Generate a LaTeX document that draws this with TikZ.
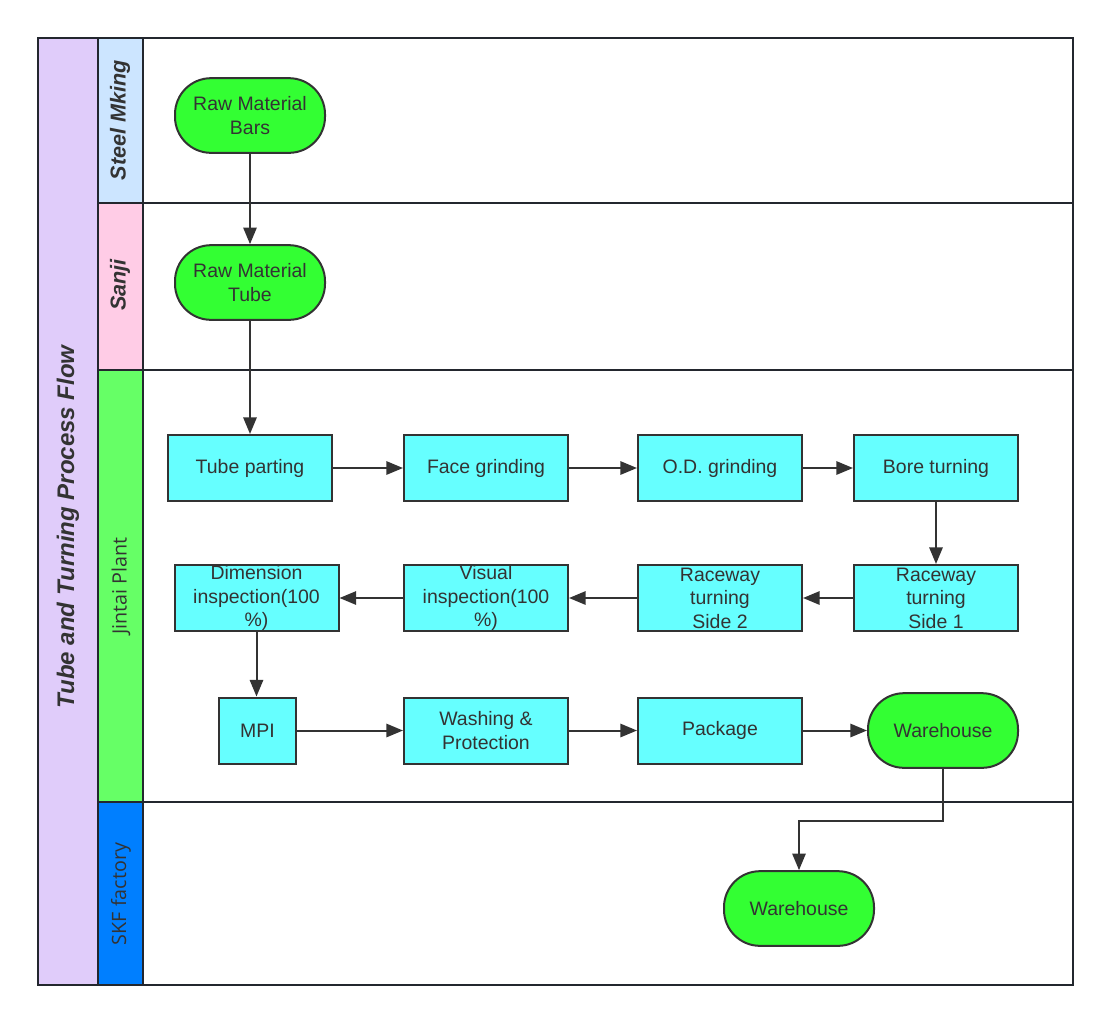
\documentclass[tikz,border=0pt]{standalone}
\usepackage{fontspec}
\setmainfont{Liberation Sans}
\newfontfamily\lanefont{Open Sans}
\definecolor{ink}{HTML}{333333}
\definecolor{rule}{HTML}{23272E}
\definecolor{titlebg}{HTML}{E0CCFA}
\definecolor{steelbg}{HTML}{CCE5FF}
\definecolor{sanjibg}{HTML}{FFCCE6}
\definecolor{jintaibg}{HTML}{66FF66}
\definecolor{skfbg}{HTML}{007FFF}
\definecolor{termfill}{HTML}{33FF33}
\definecolor{stepfill}{HTML}{66FFFF}
\usetikzlibrary{arrows.meta,positioning}

\begin{document}
\begin{tikzpicture}[
    x=0.75pt, y=-0.75pt,
    every node/.style={font=\fontsize{14.6}{17.6}\selectfont, text=ink},
    lane/.style={draw=rule, line width=1.8pt},
    lanetitle/.style={rotate=90, font=\fontsize{16.2}{18}\selectfont\bfseries\itshape},
    laneplain/.style={rotate=90, font=\fontsize{14.8}{17}\selectfont\lanefont},
    stepbox/.style={rectangle, draw=ink, fill=stepfill, line width=1.5pt, minimum height=49.5pt, minimum width=123pt, inner ysep=0pt, align=center},
    terminal/.style={rectangle, draw=ink, fill=termfill, line width=1.5pt, rounded corners=27pt, minimum height=56pt, minimum width=112.5pt, align=center},
    arrow/.style={-{Triangle[length=12.5pt, width=10pt]}, draw=ink, line width=1.5pt}
    ]
    \useasboundingbox (0,0) rectangle (1110,1022);
    % pool and lanes
    \filldraw[lane, fill=titlebg] (38,38) rectangle (98,985);
    \filldraw[lane, fill=steelbg] (98,38) rectangle (143,203);
    \filldraw[lane, fill=sanjibg] (98,203) rectangle (143,370);
    \filldraw[lane, fill=jintaibg] (98,370) rectangle (143,802);
    \filldraw[lane, fill=skfbg] (98,802) rectangle (143,985);
    \draw[lane] (143,38) rectangle (1073,985);
    \draw[lane] (143,203) -- (1073,203);
    \draw[lane] (143,370) -- (1073,370);
    \draw[lane] (143,802) -- (1073,802);
    \node[rotate=90, font=\fontsize{18}{21}\selectfont\bfseries\itshape] (pool) at (68,527) {Tube and Turning Process Flow};
    \node[lanetitle] (steel) at (120,120) {Steel Mking};
    \node[lanetitle] (sanji) at (120,285) {Sanji};
    \node[laneplain] (jintai) at (121,586) {Jintai Plant};
    \node[laneplain] (skf) at (121,894) {SKF factory};
    % steps
    \node[terminal] (bars) at (250,115.5) {Raw Material\\Bars};
    \node[terminal] (tube) at (250,282.5) {Raw Material\\Tube};
    \node[stepbox] (part) at (250,468) {Tube parting};
    \node[stepbox] (face) at (486,468) {Face grinding};
    \node[stepbox] (od) at (720,468) {O.D. grinding};
    \node[stepbox] (bore) at (936,468) {Bore turning};
    \node[stepbox] (side1) at (936,598) {Raceway\\turning\\Side 1};
    \node[stepbox] (side2) at (720,598) {Raceway\\turning\\Side 2};
    \node[stepbox] (visual) at (486,598) {Visual\\inspection(100\\\%)};
    \node[stepbox] (dim) at (256.5,598) {Dimension\\inspection(100\\\%)};
    \node[stepbox, minimum width=57.75pt] (mpi) at (257.5,730.5) {MPI};
    \node[stepbox] (wash) at (486,730.5) {Washing \&\\Protection};
    \node[stepbox] (pack) at (720,730.5) {Package};
    \node[terminal] (whj) at (943,730.5) {Warehouse};
    \node[terminal] (whs) at (799,908.5) {Warehouse};
    % flow
    \draw[arrow] (bars) -- (tube);
    \draw[arrow] (tube) -- (part);
    \draw[arrow] (part) -- (face);
    \draw[arrow] (face) -- (od);
    \draw[arrow] (od) -- (bore);
    \draw[arrow] (bore) -- (side1);
    \draw[arrow] (side1) -- (side2);
    \draw[arrow] (side2) -- (visual);
    \draw[arrow] (visual) -- (dim);
    \draw[arrow] (dim.south) -- (dim.south |- mpi.north);
    \draw[arrow] (mpi) -- (wash);
    \draw[arrow] (wash) -- (pack);
    \draw[arrow] (pack) -- (whj);
    \draw[arrow] (whj.south) -- ++(0,52) -| (whs.north);
\end{tikzpicture}
\end{document}
